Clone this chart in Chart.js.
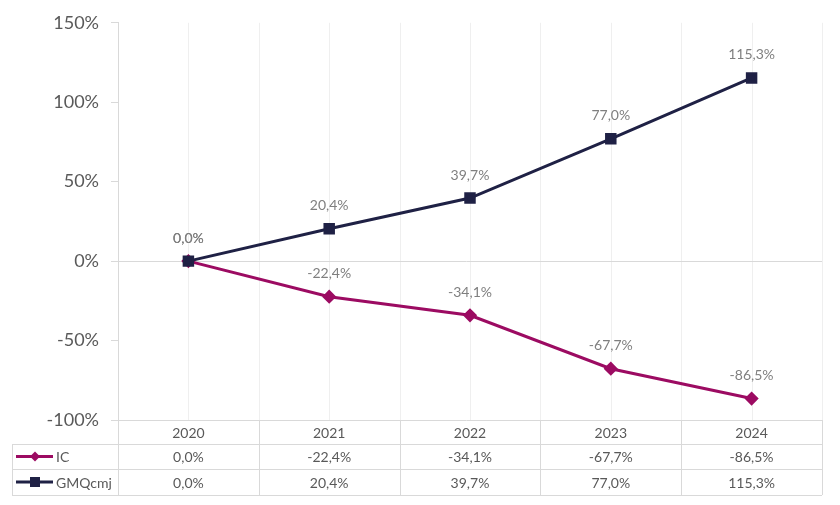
<!DOCTYPE html>
<html>
<head>
<meta charset="utf-8">
<script src="https://cdn.jsdelivr.net/npm/chart.js@4"></script>
<style>
  html, body { margin: 0; padding: 0; background: #fff; }
  #wrap { width: 840px; height: 505px; }
</style>
</head>
<body>
<div id="wrap"><canvas id="chart"></canvas></div>
<script>
const years = ['2020', '2021', '2022', '2023', '2024'];
const icValues = [0.0, -22.4, -34.1, -67.7, -86.5];
const gmqValues = [0.0, 20.4, 39.7, 77.0, 115.3];
const yTicks = [-100, -50, 0, 50, 100, 150];

const IC_COLOR = '#9c0b62';
const GMQ_COLOR = '#1f2145';
const GRID = '#d9d9d9';
const LIGHT_GRID = '#efefef';

const fmt = v => v.toFixed(1).replace('.', ',') + '%';

// grid, labels above points and the data table under the plot
const tablePlugin = {
    id: 'tablePlugin',
    beforeDatasetsDraw(chart) {
        const { ctx, chartArea: a, scales: { x, y } } = chart;
        const half = (x.getPixelForValue(1) - x.getPixelForValue(0)) / 2;
        ctx.save();
        ctx.lineWidth = 1;
        ctx.strokeStyle = LIGHT_GRID;
        years.forEach((yr, i) => {
            const cx = Math.round(x.getPixelForValue(i)) + 0.5;
            ctx.beginPath();
            ctx.moveTo(cx, a.top);
            ctx.lineTo(cx, a.bottom);
            ctx.stroke();
            const bx = Math.round(x.getPixelForValue(i) + half) + 0.5;
            ctx.beginPath();
            ctx.moveTo(bx, a.top);
            ctx.lineTo(bx, a.bottom);
            ctx.stroke();
        });
        const y0 = Math.round(y.getPixelForValue(0)) + 0.5;
        ctx.strokeStyle = GRID;
        ctx.beginPath();
        ctx.moveTo(a.left - 7, y0);
        ctx.lineTo(a.right, y0);
        ctx.stroke();
        ctx.restore();
    },
    afterDatasetsDraw(chart) {
        const { ctx, chartArea: a, scales: { x } } = chart;
        ctx.save();
        // value labels
        ctx.font = '14px Lato';
        ctx.fillStyle = '#7f7f7f';
        ctx.textAlign = 'center';
        ctx.textBaseline = 'middle';
        chart.data.datasets.forEach((ds, di) => {
            chart.getDatasetMeta(di).data.forEach((pt, i) => {
                ctx.fillText(fmt(ds.data[i]), pt.x, pt.y - 23);
            });
        });

        // table
        const half = (x.getPixelForValue(1) - x.getPixelForValue(0)) / 2;
        const rowH = [24, 25, 26];
        const top = a.bottom;
        const r1 = top + rowH[0];
        const r2 = r1 + rowH[1];
        const r3 = r2 + rowH[2];
        const leftEdge = 12;
        const px = v => Math.round(v) + 0.5;

        ctx.strokeStyle = GRID;
        ctx.lineWidth = 1;
        const hline = (x1, yy) => {
            ctx.beginPath();
            ctx.moveTo(x1, px(yy));
            ctx.lineTo(a.right, px(yy));
            ctx.stroke();
        };
        hline(a.left - 7, top);
        hline(leftEdge, r1);
        hline(leftEdge, r2);
        hline(leftEdge, r3);

        const vline = (xx, y1, y2) => {
            ctx.beginPath();
            ctx.moveTo(px(xx), y1);
            ctx.lineTo(px(xx), y2);
            ctx.stroke();
        };
        vline(a.left, a.top, r3);
        vline(leftEdge, r1, r3);
        years.forEach((yr, i) => {
            vline(x.getPixelForValue(i) + half, top, r3);
        });

        ctx.font = '14px Lato';
        ctx.fillStyle = '#595959';
        ctx.textAlign = 'center';
        const rows = [icValues, gmqValues];
        years.forEach((yr, i) => {
            const cx = x.getPixelForValue(i);
            ctx.fillText(yr, cx, top + rowH[0] / 2 + 1);
            ctx.fillText(fmt(rows[0][i]), cx, r1 + rowH[1] / 2 + 1);
            ctx.fillText(fmt(rows[1][i]), cx, r2 + rowH[2] / 2 + 1);
        });

        // legend keys in the table
        chart.data.datasets.forEach((ds, di) => {
            const cy = (di === 0 ? r1 + rowH[1] / 2 : r2 + rowH[2] / 2);
            ctx.strokeStyle = ds.borderColor;
            ctx.lineWidth = 3;
            ctx.beginPath();
            ctx.moveTo(16, cy);
            ctx.lineTo(53, cy);
            ctx.stroke();
            ctx.fillStyle = ds.borderColor;
            if (di === 0) {
                ctx.beginPath();
                ctx.moveTo(35, cy - 5);
                ctx.lineTo(40, cy);
                ctx.lineTo(35, cy + 5);
                ctx.lineTo(30, cy);
                ctx.closePath();
                ctx.fill();
            } else {
                ctx.fillRect(30, cy - 5, 10, 10);
            }
            ctx.fillStyle = '#595959';
            ctx.textAlign = 'left';
            ctx.fillText(ds.label, 56, cy + 1);
        });
        ctx.restore();
    }
};

new Chart(document.getElementById('chart'), {
    type: 'line',
    data: {
        labels: years,
        datasets: [
            {
                label: 'IC',
                data: icValues,
                borderColor: IC_COLOR,
                backgroundColor: IC_COLOR,
                borderWidth: 3,
                pointStyle: 'rectRot',
                pointRadius: 5,
                tension: 0,
                order: 1
            },
            {
                label: 'GMQcmj',
                data: gmqValues,
                borderColor: GMQ_COLOR,
                backgroundColor: GMQ_COLOR,
                borderWidth: 3,
                pointStyle: 'rect',
                pointRadius: 6,
                tension: 0,
                order: 0
            }
        ]
    },
    options: {
        responsive: true,
        maintainAspectRatio: false,
        animation: false,
        layout: { padding: { top: 20, right: 18, bottom: 85, left: 0 } },
        plugins: {
            legend: { display: false },
            tooltip: { enabled: false }
        },
        scales: {
            x: { display: false, offset: true },
            y: {
                min: yTicks[0],
                max: yTicks[yTicks.length - 1],
                afterBuildTicks: s => { s.ticks = yTicks.map(v => ({ value: v })); },
                afterFit: s => { s.width = 118; },
                border: { display: true, color: GRID },
                grid: {
                    drawOnChartArea: false,
                    drawTicks: true,
                    tickLength: 7,
                    tickColor: GRID
                },
                ticks: {
                    padding: 12,
                    color: '#595959',
                    font: { family: 'Lato', size: 18 },
                    callback: v => v + '%'
                }
            }
        }
    },
    plugins: [tablePlugin]
});
</script>
</body>
</html>
